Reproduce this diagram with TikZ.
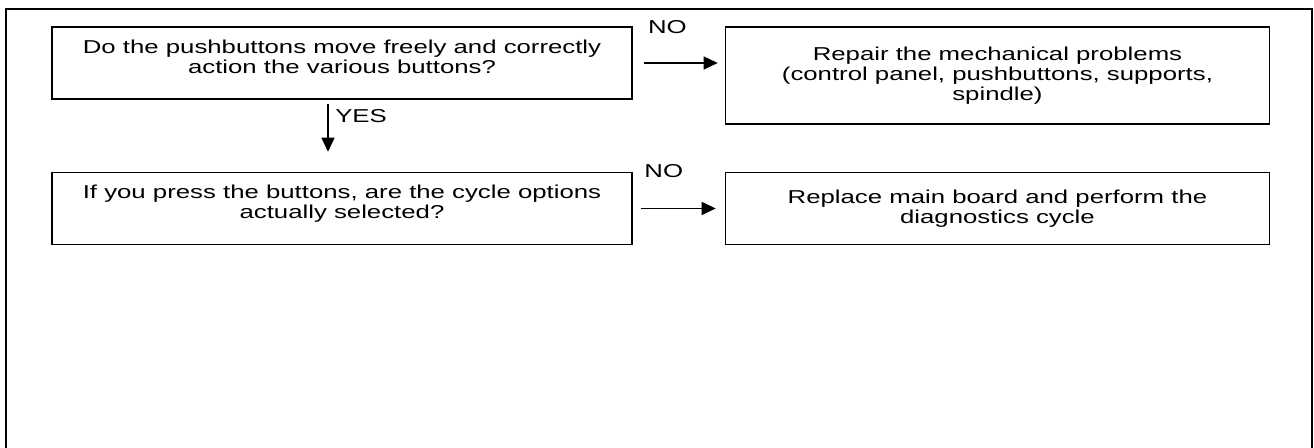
\documentclass[tikz,border=0pt]{standalone}
\usepackage{fontspec}
\setmainfont{Liberation Sans}[FakeStretch=1.38]
\usetikzlibrary{
    arrows.meta,
    positioning
}

\begin{document}
\begin{tikzpicture}[
        every node/.style={font=\fontsize{14pt}{15pt}\selectfont},
        question/.style={
            rectangle,
            draw=black,
            line width=1.1pt,
            minimum width=435pt,
            minimum height=54pt,
            inner sep=0pt,
            text depth=10pt,
            align=center
        },
        action/.style={
            rectangle,
            draw=black,
            line width=1.1pt,
            minimum width=408pt,
            minimum height=54pt,
            inner sep=0pt,
            align=center
        },
        branch/.style={
            inner sep=0pt
        },
        arrow/.style={
            -{Triangle[length=10.5pt,width=9.75pt]},
            line width=1pt
        }
    ]

    \useasboundingbox (0,0) rectangle (985.5pt,336pt);
    \draw[line width=1.5pt] (4.5pt,0) -- (4.5pt,329.25pt) -- (984pt,329.25pt) -- (984pt,0);

    \node[question] (q1) at (256.5pt,288.75pt)
        {Do the pushbuttons move freely and correctly\\action the various buttons?};
    \node[action, minimum height=72.75pt, below right=0pt and 69pt of q1.north east] (a1)
        {Repair the mechanical problems\\(control panel, pushbuttons, supports,\\spindle)};

    \node[question, below=54pt of q1] (q2)
        {If you press the buttons, are the cycle options\\actually selected?};
    \node[action, right=69pt of q2] (a2)
        {Replace main board and perform the\\diagnostics cycle};

    \draw[arrow, shorten <=8.25pt, shorten >=5.25pt] (q1.east) -- (q1.east -| a1.west);
    \node[branch] (no1) at ([xshift=26pt, yshift=27pt]q1.east) {NO};

    \draw[arrow, shorten <=3pt, shorten >=15pt]
        ([xshift=-10.5pt]q1.south) -- ([xshift=-10.5pt]q1.south |- q2.north);
    \node[branch, anchor=west] (yes) at ([xshift=-5.25pt, yshift=-12pt]q1.south) {YES};

    \draw[arrow, shorten <=6pt, shorten >=6.75pt] (q2.east) -- (a2.west);
    \node[branch] (no2) at ([xshift=23.25pt, yshift=27.75pt]q2.east) {NO};

\end{tikzpicture}
\end{document}
